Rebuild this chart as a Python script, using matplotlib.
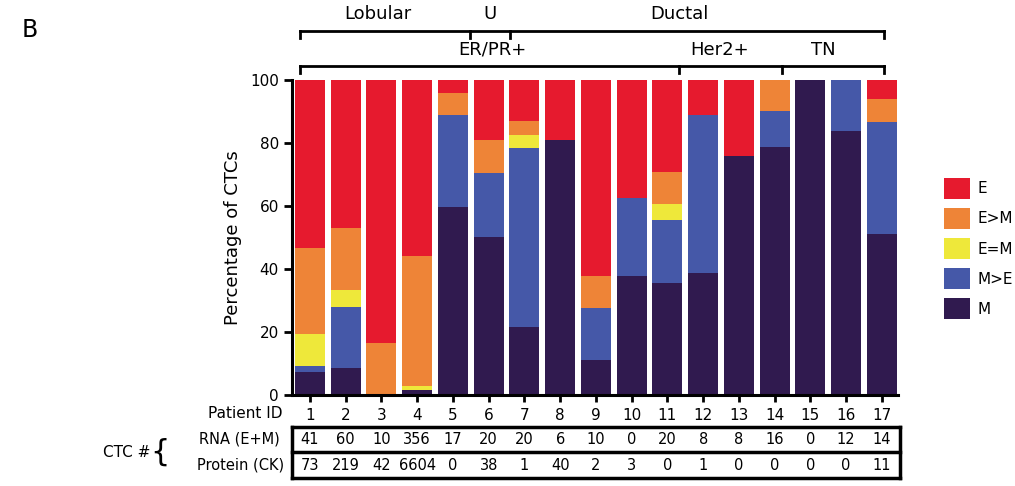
import numpy as np
import matplotlib
matplotlib.use('Agg')
import matplotlib.pyplot as plt
from matplotlib.transforms import blended_transform_factory
from matplotlib.lines import Line2D

# data (percent of CTCs per patient)
patients = list(range(1, 18))
pct_M   = [7.4, 8.5, 0, 1.5, 59.8, 50.3, 21.7, 81, 11.1, 37.8, 35.7, 38.8, 75.9, 78.6, 100, 83.8, 51.1]
pct_MgE = [1.8, 19.5, 0, 0, 29.1, 20.1, 56.6, 0, 16.4, 24.6, 19.9, 50.1, 0, 11.4, 0, 16.2, 35.7]
pct_EeM = [10.2, 5.3, 0, 1.5, 0, 0, 4.2, 0, 0, 0, 5.0, 0, 0, 0, 0, 0, 0]
pct_EgM = [27.4, 19.7, 16.4, 41, 6.9, 10.6, 4.5, 0, 10.3, 0, 10.3, 0, 0, 10, 0, 0, 7.1]
rna_counts = ['41', '60', '10', '356', '17', '20', '20', '6', '10', '0', '20', '8', '8', '16', '0', '12', '14']
protein_counts = ['73', '219', '42', '6604', '0', '38', '1', '40', '2', '3', '0', '1', '0', '0', '0', '0', '11']

labels = ['M', 'M>E', 'E=M', 'E>M', 'E']
colors = ['#301a4f', '#4558a8', '#eee83a', '#ee8437', '#e61a2e']

# E is the rest up to 100
stack = [pct_M, pct_MgE, pct_EeM, pct_EgM]
pct_E = [100 - sum(v) for v in zip(*stack)]
stack.append(pct_E)

W, H = 1015, 486
fig = plt.figure(figsize=(W/100, H/100), dpi=100)
ax = fig.add_axes([292/W, 1-395/H, 606/W, 315/H])

bottom = np.zeros(len(patients))
for vals, lab, col in zip(stack, labels, colors):
    ax.bar(patients, vals, bottom=bottom, width=0.84, color=col, label=lab)
    bottom += np.array(vals)

ax.set_xlim(0.5, 17.45)
ax.set_ylim(0, 100)
ax.set_yticks([0, 20, 40, 60, 80, 100])
ax.set_xticks(patients)
ax.set_xticklabels([str(p) for p in patients], fontsize=11)
ax.tick_params(axis='y', labelsize=11, width=2, length=6)
ax.tick_params(axis='x', width=2, length=5, pad=4)
for s in ['top', 'right']:
    ax.spines[s].set_visible(False)
ax.spines['left'].set_linewidth(2.2)
ax.spines['bottom'].set_linewidth(2.2)
ax.set_ylabel('Percentage of CTCs', fontsize=13, labelpad=6)

# legend, top entry E
h, l = ax.get_legend_handles_labels()
fig.legend(h[::-1], l[::-1], loc='upper left', bbox_to_anchor=(938/W, 1-172/H),
           frameon=False, fontsize=11, handlelength=1.7, handleheight=1.7,
           labelspacing=0.62, handletextpad=0.5, borderaxespad=0)

tr = blended_transform_factory(ax.transData, fig.transFigure)
def fy(py):
    return 1 - py/H

def line(x, y, lw=2):
    ax.add_line(Line2D(x, y, transform=tr, color='black', lw=lw, clip_on=False))

# upper bracket: Lobular / U / Ductal
y1 = fy(31)
line([0.72, 17.06], [y1, y1])
for xt in [0.72, 5.48, 6.6, 17.06]:
    line([xt, xt], [y1, fy(38)])
ax.text(2.9, fy(14), 'Lobular', transform=tr, ha='center', va='center', fontsize=13)
ax.text(6.03, fy(14), 'U', transform=tr, ha='center', va='center', fontsize=13)
ax.text(11.35, fy(14), 'Ductal', transform=tr, ha='center', va='center', fontsize=13)

# lower bracket: ER/PR+ / Her2+ / TN
y2 = fy(66)
line([0.72, 17.06], [y2, y2])
for xt in [0.72, 11.32, 14.2, 17.06]:
    line([xt, xt], [y2, fy(73)])
ax.text(6.1, fy(50), 'ER/PR+', transform=tr, ha='center', va='center', fontsize=13)
ax.text(12.47, fy(50), 'Her2+', transform=tr, ha='center', va='center', fontsize=13)
ax.text(15.35, fy(50), 'TN', transform=tr, ha='center', va='center', fontsize=13)

# count table
for i, p in enumerate(patients):
    ax.text(p, fy(439), rna_counts[i], transform=tr, ha='center', va='center', fontsize=10.5)
    ax.text(p, fy(465), protein_counts[i], transform=tr, ha='center', va='center', fontsize=10.5)
xl, xr = 0.5, 17.5
line([xl, xr], [fy(427), fy(427)], lw=2.5)
line([xl, xr], [fy(452), fy(452)], lw=2.5)
line([xl, xr], [fy(478), fy(478)], lw=2.5)
line([xl, xl], [fy(427), fy(478)], lw=2.5)
line([xr, xr], [fy(427), fy(478)], lw=2.5)

fig.text(283/W, fy(413), 'Patient ID', ha='right', va='center', fontsize=11)
fig.text(280/W, fy(439), 'RNA (E+M)', ha='right', va='center', fontsize=10.5)
fig.text(284/W, fy(465), 'Protein (CK)', ha='right', va='center', fontsize=10.5)
fig.text(103/W, fy(452), 'CTC #', ha='left', va='center', fontsize=11)
fig.text(160/W, fy(452), '{', ha='center', va='center', fontsize=22)

fig.text(22/W, fy(30), 'B', ha='left', va='center', fontsize=17)

fig.savefig('out.png', dpi=100)
